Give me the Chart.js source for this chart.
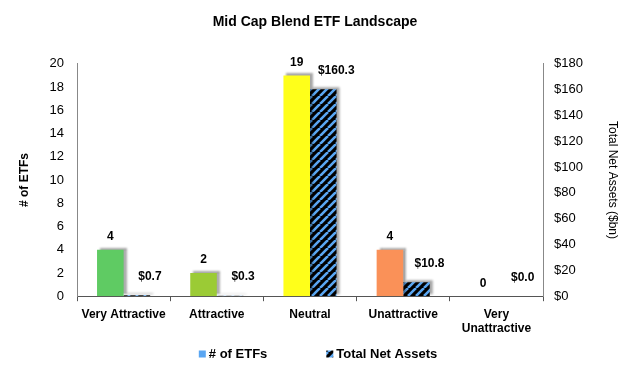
<!DOCTYPE html>
<html>
<head>
<meta charset="utf-8">
<script src="https://cdn.jsdelivr.net/npm/chart.js@4"></script>
<style>
  html, body { margin: 0; padding: 0; background: #fff; }
  #wrap { width: 630px; height: 369px; }
</style>
</head>
<body>
<div id="wrap"><canvas id="chart"></canvas></div>
<script>
const categories = ["Very Attractive", "Attractive", "Neutral", "Unattractive", ["Very", "Unattractive"]];
const etfCounts = [4, 2, 19, 4, 0];
const netAssets = [0.7, 0.3, 160.3, 10.8, 0.0];
const countTicks = { min: 0, max: 20, step: 2 };
const assetTicks = { min: 0, max: 180, step: 20 };
const barColors = ["#5fcb63", "#9bcb35", "#ffff1a", "#fa9158", "#e2463b"];
const legendNames = ["# of ETFs", "Total Net Assets"];
const FONT = "'Liberation Sans', Arial, sans-serif";

function makeHatch() {
  const c = document.createElement("canvas");
  c.width = 8; c.height = 8;
  const g = c.getContext("2d");
  g.fillStyle = "#000";
  g.fillRect(0, 0, 8, 8);
  g.strokeStyle = "#5aa6f2";
  g.lineWidth = 2.6;
  g.beginPath();
  for (let k = -8; k <= 16; k += 8) {
    g.moveTo(k, 8);
    g.lineTo(k + 8, 0);
  }
  g.stroke();
  return g.createPattern(c, "repeat");
}
const hatch = makeHatch();

// grey drop shadow behind the bars, like the excel original
const barShadow = {
  id: "barShadow",
  beforeDatasetDraw(chart) {
    const ctx = chart.ctx;
    ctx.save();
    ctx.shadowColor = "rgba(0,0,0,0.35)";
    ctx.shadowOffsetX = 3;
    ctx.shadowOffsetY = -2;
    ctx.shadowBlur = 2;
  },
  afterDatasetDraw(chart) {
    chart.ctx.restore();
  }
};

const valueLabels = {
  id: "valueLabels",
  afterDatasetsDraw(chart) {
    const ctx = chart.ctx;
    ctx.save();
    ctx.font = "bold 12px " + FONT;
    ctx.fillStyle = "#000";
    ctx.textAlign = "center";
    ctx.textBaseline = "middle";
    chart.data.datasets.forEach((ds, di) => {
      const meta = chart.getDatasetMeta(di);
      meta.data.forEach((bar, i) => {
        const v = ds.data[i];
        if (di === 0) {
          ctx.fillText(String(v), bar.x, bar.y - 13);
        } else {
          ctx.fillText("$" + v.toFixed(1), bar.x + 13, bar.y - 19);
        }
      });
    });
    ctx.restore();
  }
};

// legend drawn by hand: the built-in one can't do a wide gap without a tall box
const bottomLegend = {
  id: "bottomLegend",
  afterDraw(chart) {
    const ctx = chart.ctx;
    const fills = ["#5aa6f2", hatch];
    const box = 7, gap = 3, spacing = 59;
    ctx.save();
    ctx.font = "bold 13px " + FONT;
    ctx.textBaseline = "middle";
    const widths = legendNames.map(t => box + gap + ctx.measureText(t).width);
    const total = widths[0] + spacing + widths[1];
    let x = chart.width / 2 + 3 - total / 2;
    const y = chart.height - 15;
    legendNames.forEach((t, i) => {
      ctx.fillStyle = fills[i];
      ctx.fillRect(x, y - box / 2, box, box);
      ctx.fillStyle = "#000";
      ctx.fillText(t, x + box + gap, y);
      x += widths[i] + spacing;
    });
    ctx.restore();
  }
};

new Chart(document.getElementById("chart"), {
  type: "bar",
  data: {
    labels: categories,
    datasets: [
      {
        label: legendNames[0],
        data: etfCounts,
        backgroundColor: barColors,
        yAxisID: "y",
        barPercentage: 1,
        categoryPercentage: 0.57
      },
      {
        label: legendNames[1],
        data: netAssets,
        backgroundColor: hatch,
        yAxisID: "y1",
        barPercentage: 1,
        categoryPercentage: 0.57
      }
    ]
  },
  options: {
    responsive: true,
    maintainAspectRatio: false,
    animation: false,
    layout: { padding: { left: 0, right: 0, top: 0, bottom: 27 } },
    plugins: {
      title: {
        display: true,
        text: "Mid Cap Blend ETF Landscape",
        color: "#000",
        font: { family: FONT, size: 14, weight: "bold" },
        padding: { top: 14, bottom: 33 }
      },
      legend: { display: false },
      tooltip: { enabled: false }
    },
    scales: {
      x: {
        grid: { display: true, drawOnChartArea: false, drawTicks: true, tickLength: 5, color: "#555" },
        border: { color: "#555" },
        ticks: {
          color: "#000",
          font: { family: FONT, size: 12, weight: "bold" },
          maxRotation: 0,
          autoSkip: false,
          padding: 6
        }
      },
      y: {
        position: "left",
        min: countTicks.min,
        max: countTicks.max,
        grid: { display: false, drawTicks: false },
        border: { color: "#888" },
        ticks: {
          stepSize: countTicks.step,
          color: "#000",
          font: { family: FONT, size: 13 },
          padding: 13
        },
        title: {
          display: true,
          text: "# of ETFs",
          color: "#000",
          font: { family: FONT, size: 12, weight: "bold" },
          padding: { top: 17, bottom: 0 }
        },
        afterFit: s => { s.width = 77; }
      },
      y1: {
        position: "right",
        min: assetTicks.min,
        max: assetTicks.max,
        grid: { display: false, drawTicks: false },
        border: { color: "#888" },
        ticks: {
          stepSize: assetTicks.step,
          color: "#000",
          font: { family: FONT, size: 13 },
          padding: 11,
          callback: v => "$" + v
        },
        title: {
          display: true,
          text: "Total Net Assets ($bn)",
          color: "#000",
          font: { family: FONT, size: 12 },
          padding: { top: 10, bottom: 0 }
        },
        afterFit: s => { s.width = 87; }
      }
    }
  },
  plugins: [barShadow, valueLabels, bottomLegend]
});
</script>
</body>
</html>
